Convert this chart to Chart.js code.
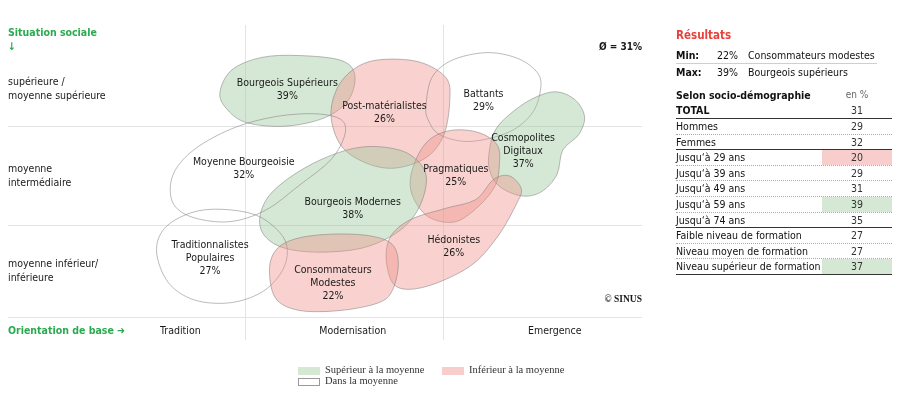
<!DOCTYPE html>
<html>
<head>
<meta charset="utf-8">
<script src="https://cdn.jsdelivr.net/npm/chart.js@4.4.0/dist/chart.umd.min.js"></script>
<style>
  body { margin: 0; background: #fff; }
  #wrap { position: relative; width: 900px; height: 398px; overflow: hidden; font-family: "DejaVu Sans Condensed", Lato, sans-serif; color: #111; }
  #map { position: absolute; left: 0; top: 0; }
  .abs { position: absolute; white-space: nowrap; }
  #results { position: absolute; left: 676px; top: 0; width: 216px; font-size: 10.5px; }
  .trow { position: absolute; left: 0; width: 216px; box-sizing: border-box; }
  .trow span { position: absolute; top: 0; line-height: inherit; }
  .legend { font-family: "Liberation Serif", serif; font-size: 10.5px; color: #333; }
  .legend i { position: absolute; width: 22px; height: 8px; box-sizing: border-box; }
</style>
</head>
<body>
<div id="wrap">
  <canvas id="map" width="900" height="398"></canvas>
  <div id="results"></div>
  <div class="legend">
    <i style="left:298px;top:367px;background:#d5e8d4;"></i>
    <span class="abs" style="left:325px;top:364px;">Supérieur à la moyenne</span>
    <i style="left:442px;top:367px;background:#f8cecc;"></i>
    <span class="abs" style="left:469px;top:364px;">Inférieur à la moyenne</span>
    <i style="left:298px;top:378px;background:#fff;border:1px solid #999;"></i>
    <span class="abs" style="left:325px;top:375px;">Dans la moyenne</span>
  </div>
</div>
<script>
// milieu map: x = orientation de base (Tradition 0-100, Modernisation 100-200, Emergence 200-300)
// y = situation sociale (inférieure 0-96, intermédiaire 96-200, supérieure 200+)
const colLines = [100, 200];
const rowLines = [0, 96, 200];
const colLabels = ['Tradition', 'Modernisation', 'Emergence'];
const colLabelX = [67, 154, 256];
const rowLabels = [['supérieure /', 'moyenne supérieure'], ['moyenne', 'intermédiaire'], ['moyenne inférieur/', 'inférieure']];
const rowLabelY = [239, 148, 48];

const milieux = ['Bourgeois Supérieurs', 'Post-matérialistes', 'Battants', 'Cosmopolites\nDigitaux', 'Pragmatiques',
  'Bourgeois Modernes', 'Moyenne Bourgeoisie', 'Traditionnalistes\nPopulaires', 'Hédonistes', 'Consommateurs\nModestes'];
const shares = [39, 26, 29, 37, 25, 38, 32, 27, 26, 22];
const levels = ['sup', 'inf', 'moy', 'sup', 'inf', 'sup', 'moy', 'moy', 'inf', 'inf'];
const labelX = [121, 170, 220, 240, 206, 154, 99, 82, 205, 144];
const labelY = [238, 214, 227, 174, 148, 113, 155, 62, 74, 35];

// outlines of each milieu on the map (x, y in map units)
const outlineBourgeoisSup = [[87,236],[93,259],[108,272],[127,274],[148,269],[155,254],[152,228],[140,209],[120,200],[100,204],[90,219]];
const outlinePostMat = [[143,212],[147,243],[157,263],[170,270],[188,267],[201,251],[203,228],[200,191],[191,167],[175,156],[160,162],[148,180]];
const outlineBattants = [[191,222],[194,251],[204,269],[221,277],[236,272],[246,259],[249,243],[245,215],[233,194],[213,184],[198,191],[192,207]];
const outlineCosmo = [[223,175],[226,196],[233,212],[244,228],[256,236],[266,228],[271,210],[268,191],[260,175],[257,149],[249,131],[239,127],[228,137],[223,154]];
const outlinePragma = [[205,196],[218,193],[227,180],[228,159],[226,138],[218,117],[206,100],[193,104],[185,123],[183,144],[187,170],[194,188]];
const outlineBourgeoisMod = [[107,102],[111,125],[122,146],[138,165],[155,177],[170,178],[183,170],[191,149],[188,117],[178,91],[160,73],[138,68],[120,72],[110,84]];
const outlineMoyBourg = [[62,138],[66,159],[77,180],[95,199],[115,210],[135,213],[148,207],[150,191],[143,165],[127,138],[110,112],[92,100],[74,104],[64,117]];
const outlineTradPop = [[55,68],[59,93],[72,109],[87,113],[105,107],[117,89],[121,70],[118,47],[108,26],[92,15],[74,18],[61,36]];
const outlineHedon = [[171,58],[173,84],[183,102],[201,114],[216,123],[225,144],[233,148],[239,135],[237,120],[227,84],[213,53],[191,32],[176,32]];
const outlineConsoMod = [[112,51],[116,72],[127,83],[145,87],[163,85],[174,76],[177,55],[174,28],[167,15],[148,7],[127,7],[115,20]];
const outlines = [outlineBourgeoisSup, outlinePostMat, outlineBattants, outlineCosmo, outlinePragma,
  outlineBourgeoisMod, outlineMoyBourg, outlineTradPop, outlineHedon, outlineConsoMod];

// right hand table
const average = 31;
const minLine = ['Min:', '22%', 'Consommateurs modestes'];
const maxLine = ['Max:', '39%', 'Bourgeois supérieurs'];
const rowNames = ['TOTAL', 'Hommes', 'Femmes', 'Jusqu‘à 29 ans', 'Jusqu‘à 39 ans', 'Jusqu‘à 49 ans', 'Jusqu‘à 59 ans',
  'Jusqu‘à 74 ans', 'Faible niveau de formation', 'Niveau moyen de formation', 'Niveau supérieur de formation'];
const rowValues = [31, 29, 32, 20, 29, 31, 39, 35, 27, 27, 37];
const rowFlags = ['', '', '', 'inf', '', '', 'sup', '', '', '', 'sup'];
const groupEnds = [0, 2, 7, 10];

const FONT = '"DejaVu Sans Condensed", Lato, sans-serif';
const GREEN = '#2aaa4f';
const fills = { sup: 'rgba(150,197,150,0.4)', inf: 'rgba(240,142,135,0.4)' };

function closedSpline(ctx, p) {
  const n = p.length;
  ctx.moveTo(p[0].x, p[0].y);
  for (let i = 0; i < n; i++) {
    const p0 = p[(i - 1 + n) % n], p1 = p[i], p2 = p[(i + 1) % n], p3 = p[(i + 2) % n];
    ctx.bezierCurveTo(p1.x + (p2.x - p0.x) / 6, p1.y + (p2.y - p0.y) / 6,
      p2.x - (p3.x - p1.x) / 6, p2.y - (p3.y - p1.y) / 6, p2.x, p2.y);
  }
  ctx.closePath();
}

const milieuMap = {
  id: 'milieuMap',
  beforeDatasetsDraw(chart) {
    const { ctx, scales: { x, y } } = chart;
    outlines.forEach((pts, i) => {
      const px = pts.map(p => ({ x: x.getPixelForValue(p[0]), y: y.getPixelForValue(p[1]) }));
      ctx.save();
      ctx.beginPath();
      closedSpline(ctx, px);
      if (fills[levels[i]]) { ctx.fillStyle = fills[levels[i]]; ctx.fill(); }
      ctx.strokeStyle = 'rgba(120,120,120,0.5)';
      ctx.lineWidth = 1;
      ctx.stroke();
      ctx.restore();
    });
  },
  afterDatasetsDraw(chart) {
    const { ctx } = chart;
    const pts = chart.getDatasetMeta(0).data;
    ctx.save();
    ctx.fillStyle = '#1a1a1a';
    ctx.font = '10.5px ' + FONT;
    ctx.textAlign = 'center';
    ctx.textBaseline = 'middle';
    milieux.forEach((name, i) => {
      const lines = name.split('\n').concat(shares[i] + '%');
      const y0 = pts[i].y - (lines.length - 1) * 13 / 2;
      lines.forEach((t, k) => ctx.fillText(t, pts[i].x, y0 + k * 13));
    });
    ctx.restore();
  },
  afterDraw(chart) {
    const { ctx, chartArea: area, scales: { x, y } } = chart;
    ctx.save();
    ctx.textBaseline = 'middle';
    ctx.textAlign = 'left';
    ctx.fillStyle = GREEN;
    ctx.font = 'bold 10.5px ' + FONT;
    ctx.fillText('Situation sociale', area.left, area.top + 8);
    ctx.fillText('↓', area.left, area.top + 22);
    ctx.fillText('Orientation de base ➜', area.left, y.getPixelForValue(-14.5));
    ctx.fillStyle = '#1a1a1a';
    ctx.font = '10.5px ' + FONT;
    rowLabels.forEach((lines, i) => {
      const cy = y.getPixelForValue(rowLabelY[i]);
      ctx.fillText(lines[0], area.left, cy - 7);
      ctx.fillText(lines[1], area.left, cy + 7);
    });
    ctx.textAlign = 'center';
    colLabels.forEach((t, i) => ctx.fillText(t, x.getPixelForValue(colLabelX[i]), y.getPixelForValue(-14.5)));
    ctx.textAlign = 'right';
    ctx.font = 'bold 10px ' + FONT;
    ctx.fillText('Ø = ' + average + '%', area.right, area.top + 22);
    ctx.font = 'bold 9.5px "Liberation Serif", serif';
    ctx.fillText('© SINUS', area.right, y.getPixelForValue(18));
    ctx.restore();
  }
};

new Chart(document.getElementById('map').getContext('2d'), {
  type: 'scatter',
  data: {
    datasets: [{
      data: labelX.map((v, i) => ({ x: v, y: labelY[i] })),
      pointRadius: 0
    }]
  },
  options: {
    responsive: false,
    animation: false,
    layout: { padding: { left: 8, right: 258, top: 25, bottom: 58 } },
    plugins: { legend: { display: false }, tooltip: { enabled: false } },
    scales: {
      x: {
        min: -20, max: 300,
        afterBuildTicks: s => { s.ticks = colLines.map(v => ({ value: v })); },
        ticks: { display: false },
        grid: { color: '#e4e4e4', drawTicks: false },
        border: { display: false }
      },
      y: {
        min: -24, max: 306,
        afterBuildTicks: s => { s.ticks = rowLines.map(v => ({ value: v })); },
        ticks: { display: false },
        grid: { color: '#e4e4e4', drawTicks: false },
        border: { display: false }
      }
    }
  },
  plugins: [milieuMap]
});

// results table
const res = document.getElementById('results');
function add(html, style) {
  const d = document.createElement('div');
  d.className = 'abs';
  d.style.cssText = style;
  d.innerHTML = html;
  res.appendChild(d);
  return d;
}
add('Résultats', 'left:0;top:28px;font-weight:bold;font-size:11.5px;color:#e8413c;');
[minLine, maxLine].forEach((l, i) => {
  const t = 47 + i * 17;
  add(l[0], 'left:0;top:' + t + 'px;font-weight:bold;line-height:16px;');
  add(l[1], 'left:38px;width:24px;text-align:right;top:' + t + 'px;line-height:16px;');
  add(l[2], 'left:72px;top:' + t + 'px;line-height:16px;');
});
add('', 'left:0;top:63px;width:201px;height:0;border-top:1px solid #cfcfcf;');
add('Selon socio-démographie', 'left:0;top:87px;font-weight:bold;line-height:16px;');
add('en %', 'left:146px;width:70px;text-align:center;top:87px;line-height:16px;color:#666;font-size:10px;');
let rowTop = 102;
rowNames.forEach((name, i) => {
  const h = i === 0 ? 17 : 15.6;
  const row = document.createElement('div');
  row.className = 'trow';
  const solid = groupEnds.includes(i);
  row.style.cssText = 'top:' + rowTop + 'px;height:' + h + 'px;line-height:' + (h - 1) + 'px;' +
    (solid ? 'border-bottom:1.5px solid #333;' : 'border-bottom:1px dotted #aaa;') +
    (i === 0 ? 'font-weight:bold;' : '');
  const bg = rowFlags[i] === 'inf' ? '#f8cecc' : rowFlags[i] === 'sup' ? '#d5e8d4' : 'transparent';
  row.innerHTML = '<span style="left:0">' + name + '</span>' +
    '<span style="left:146px;width:70px;height:' + (h - 1) + 'px;text-align:center;color:#333;font-weight:normal;background:' + bg + '">' + rowValues[i] + '</span>';
  res.appendChild(row);
  rowTop += h;
});
</script>
</body>
</html>
